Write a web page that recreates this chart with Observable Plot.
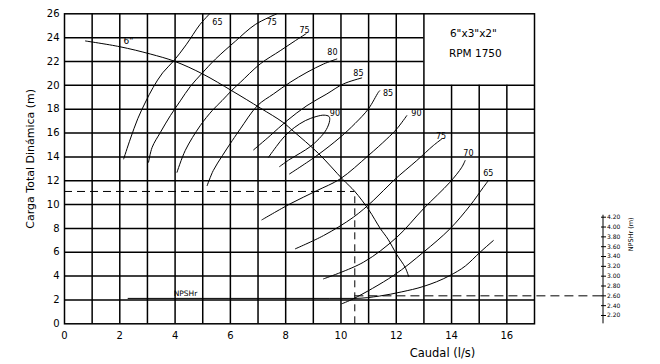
<!DOCTYPE html>
<html><head><meta charset="utf-8">
<script src="https://cdn.jsdelivr.net/npm/d3@7"></script>
<script src="https://cdn.jsdelivr.net/npm/@observablehq/plot@0.6"></script>
<style>
html,body{margin:0;padding:0;background:#fff;}
#chart{position:relative;width:660px;height:364px;}
#chart svg{position:absolute;left:0;top:0;}
</style></head><body><div id="chart"></div>
<script>
// ---- data ----
const xTicks = [0,2,4,6,8,10,12,14,16];
const yTicks = [0,2,4,6,8,10,12,14,16,18,20,22,24,26];
const gridQ = [1,2,3,4,5,6,7,8,9,10,11,12,13,14,15,16];
const gridH = [2,4,6,8,10,12,14,16,18,20,22,24];
const boxQ = 13, boxH = 20;              // blank info box (upper right)
const boxText = ['6"x3"x2"', "RPM 1750"];
const boxTextQ = [14.79, 14.86];
const boxTextH = [24.33, 22.66];

// head curve, impeller 6"
const headQ = [0.76,2.0,3.1,4.0,5.0,6.05,7.08,7.9,8.28,9.19,10.07,10.5,11.0,11.42,11.7,12.02,12.32,12.45];
const headH = [23.72,23.24,22.63,22.0,20.95,19.55,18.1,16.9,16.15,14.28,12.1,11.1,9.58,8.0,7.1,5.8,4.74,3.96];
const headLabel = {text: '6"', q: 2.31, h: 23.68};

// iso-efficiency curves [caudal, carga]
const effCurves = [
  [[2.14,13.83],[2.38,15.5],[2.65,17.2],[2.93,18.6],[3.2,19.8],[3.55,21.05],[3.95,22.05],[4.4,23.4],[4.9,25.1],[5.25,26.0]],
  [[3.04,13.55],[3.17,14.8],[3.47,16.06],[3.83,17.46],[4.19,18.7],[4.55,19.9],[4.97,21.0],[5.46,22.2],[6.18,23.7],[6.9,25.1],[7.68,26.0]],
  [[4.07,12.71],[4.37,14.55],[4.91,16.62],[5.35,17.9],[5.7,18.72],[6.06,19.6],[6.36,20.25],[7.08,21.8],[7.8,22.9],[8.35,23.75],[8.74,24.33]],
  [[5.16,11.59],[5.38,12.85],[5.71,14.1],[6.07,15.37],[6.36,16.35],[6.98,18.3],[7.56,19.28],[8.16,20.25],[8.77,21.09],[9.37,21.79],[9.85,22.21]],
  [[6.84,14.59],[7.44,15.78],[8.05,17.04],[8.77,18.3],[9.49,19.28],[10.09,20.12],[10.75,20.62]],
  [[7.38,13.97],[7.66,14.86],[7.95,15.7],[8.31,16.45],[8.71,17.04],[9.1,17.38],[9.39,17.5],[9.57,17.38],[9.59,17.04],[9.47,16.29],[9.21,15.53],[8.89,14.86],[8.53,14.32],[8.16,13.81],[7.78,13.19]],
  [[8.14,12.57],[9.13,14.11],[9.97,15.64],[10.51,16.8],[10.99,18.02],[11.35,19.41],[11.4,19.55]],
  [[7.14,8.72],[8.16,10.06],[9.13,11.17],[9.97,12.15],[10.99,14.11],[11.66,15.51],[12.02,16.35],[12.38,17.46]],
  [[8.35,6.29],[9.37,7.4],[10.45,8.94],[11.17,10.34],[11.9,12.01],[12.74,13.69],[13.34,14.95],[13.65,15.51]],
  [[9.37,3.77],[10.81,5.16],[12.02,7.26],[12.98,9.64],[13.94,11.87],[14.37,13.13],[14.49,13.69]],
  [[10.03,1.68],[10.45,2.1],[11.9,4.05],[12.98,6.0],[13.94,7.96],[14.67,9.92],[15.15,11.45],[15.33,12.01]]
];
const effLabelText = ["65","75","75","80","85","85","90","90","75","70","65"];
const effLabelQ = [5.53,7.5,8.68,9.69,10.63,11.7,9.78,12.73,13.62,14.61,15.33];
const effLabelH = [25.27,25.27,24.64,22.76,21.04,19.28,17.64,17.64,15.71,14.27,12.6];

// NPSHr curve (drawn on main grid)
const npshrCurve = [[2.3,2.13],[9.6,2.13],[10.5,2.13],[11.4,2.33],[12.2,2.68],[12.98,3.13],[13.94,4.05],[14.5,4.85],[15.03,6.0],[15.51,6.98]];
const npshrLabel = {text: "NPSHr", q: 3.95, h: 2.5};

// operating point
const opQ = 10.5, opH = 11.1, npshOp = 2.60;

// NPSHr secondary axis
const npshTicks = [2.2,2.4,2.6,2.8,3.0,3.2,3.4,3.6,3.8,4.0,4.2];
const npshExtent = [2.03, 4.24];
const npshAxisQ = 19.47;

// ---- chart ----
const font = {fontFamily: "DejaVu Sans", fontSize: "10px", background: "transparent", color: "#000"};
const ink = "#000";

const main = Plot.plot({
  width: 660, height: 364,
  marginLeft: 64, marginRight: 126, marginTop: 13.3, marginBottom: 40.7,
  x: {domain: [0, 17], label: null},
  y: {domain: [0, 26], label: null},
  style: font,
  marks: [
    Plot.ruleX(gridQ, {x: d => d, y1: 0, y2: d => d > boxQ ? boxH : 26, stroke: ink, strokeWidth: 1.5}),
    Plot.ruleY(gridH, {y: d => d, x1: 0, x2: d => d > boxH ? boxQ : 17, stroke: ink, strokeWidth: 1.5}),
    Plot.frame({stroke: ink, strokeWidth: 1.5}),
    Plot.axisX(xTicks, {tickSize: 0, tickPadding: 8, label: null, fontSize: 10}),
    Plot.axisY(yTicks, {tickSize: 0, tickPadding: 5, label: null, fontSize: 10}),
    Plot.text(["Caudal (l/s)"], {frameAnchor: "bottom", dx: 143, dy: 30, textAnchor: "middle", lineAnchor: "middle", fontSize: 11.5, text: d => d}),
    Plot.text(["Carga Total Dinámica (m)"], {frameAnchor: "left", dx: -34, dy: -10, rotate: -90, textAnchor: "middle", lineAnchor: "middle", fontSize: 11, text: d => d}),
    Plot.text(boxText, {x: boxTextQ, y: boxTextH, text: d => d, fontSize: 10.5}),
    // operating point guides
    Plot.ruleY([opH], {x1: 0, x2: opQ, stroke: ink, strokeDasharray: "8,5"}),
    Plot.ruleX([opQ], {y1: 0, y2: opH, stroke: ink, strokeDasharray: "7,5"}),
    // efficiency curves
    ...effCurves.map(c => Plot.line(c, {x: d => d[0], y: d => d[1], curve: "catmull-rom", stroke: ink, strokeWidth: 1})),
    Plot.text(effLabelText, {x: effLabelQ, y: effLabelH, text: d => d, fontSize: 8}),
    // head curve
    Plot.line(headQ.map((q, i) => [q, headH[i]]), {x: d => d[0], y: d => d[1], curve: "catmull-rom", stroke: ink, strokeWidth: 1}),
    Plot.text([headLabel], {x: "q", y: "h", text: "text", fontSize: 9}),
    // NPSHr
    Plot.line(npshrCurve, {x: d => d[0], y: d => d[1], curve: "monotone-x", stroke: ink, strokeWidth: 1}),
    Plot.text([npshrLabel], {x: "q", y: "h", text: "text", textAnchor: "start", fontSize: 7.5})
  ]
});

const npsh = Plot.plot({
  width: 660, height: 364,
  marginLeft: 64, marginRight: 57.5, marginTop: 13.3, marginBottom: 40.7,
  x: {domain: [0, npshAxisQ], label: null, axis: null},
  y: {domain: [2.2, 4.2], range: [315, 216.7], label: null},
  style: font,
  marks: [
    Plot.ruleX([npshAxisQ], {y1: npshExtent[0], y2: npshExtent[1], stroke: ink, strokeWidth: 1}),
    Plot.axisY(npshTicks, {anchor: "right", tickSize: 5, dx: -2.5, tickPadding: 1.5, tickFormat: d => d.toFixed(2), fontSize: 6, label: null}),
    Plot.ruleY([npshOp], {x1: opQ, x2: npshAxisQ, stroke: ink, strokeDasharray: "9,5"}),
    Plot.text(["NPSHr (m)"], {frameAnchor: "right", y: [3.85], dx: 27.5, rotate: -90, textAnchor: "middle", lineAnchor: "middle", fontSize: 6.5, text: d => d})
  ]
});

const el = document.getElementById("chart");
el.appendChild(main);
el.appendChild(npsh);
</script></body></html>
